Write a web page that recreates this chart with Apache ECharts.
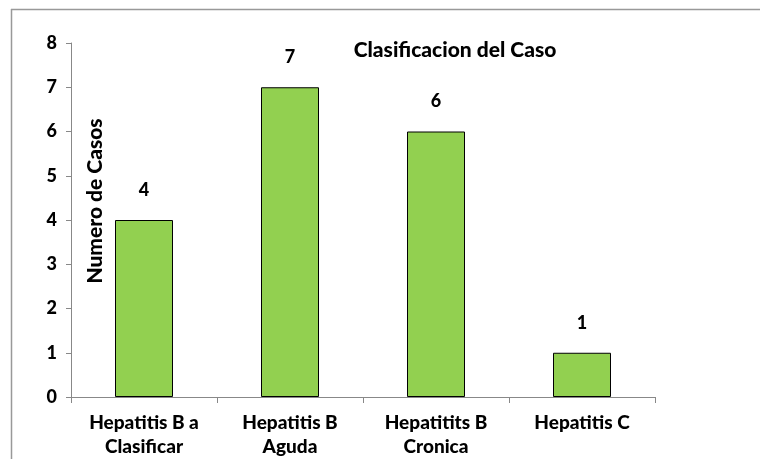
<!DOCTYPE html>
<html>
<head>
<meta charset="utf-8">
<script src="https://cdn.jsdelivr.net/npm/echarts@6/dist/echarts.min.js"></script>
<style>html,body{margin:0;padding:0;background:#fff}#c{width:760px;height:459px}</style>
</head>
<body>
<div id="c"></div>
<script>
var categories = ['Hepatitis B a\nClasificar', 'Hepatitis B\nAguda', 'Hepatitits B\nCronica', 'Hepatitis C'];
var casos = [4, 7, 6, 1];
var yTicks = [0, 1, 2, 3, 4, 5, 6, 7, 8];
var titleText = 'Clasificacion del Caso';
var yName = 'Numero de Casos';

var FONT = 'Lato, "Open Sans", sans-serif';
var W = 900;
var chart = echarts.init(document.getElementById('c'), null, {renderer: 'canvas'});
chart.setOption({
  animation: false,
  backgroundColor: '#fff',
  title: {
    text: titleText,
    left: 450, top: 35, textAlign: 'center',
    textStyle: {fontFamily: FONT, fontWeight: W, fontSize: 21, color: '#000'}
  },
  grid: {left: 71, right: 105, top: 43, bottom: 61},
  xAxis: {
    type: 'category',
    data: categories,
    axisLine: {lineStyle: {color: '#888', width: 1}},
    axisTick: {show: true, length: 6, alignWithLabel: false, lineStyle: {color: '#888'}},
    axisLabel: {fontFamily: FONT, fontWeight: W, fontSize: 19, color: '#000', lineHeight: 24, margin: 14, interval: 0}
  },
  yAxis: {
    type: 'value',
    min: yTicks[0], max: yTicks[yTicks.length - 1], interval: 1,
    splitLine: {show: false},
    axisLine: {show: true, lineStyle: {color: '#888', width: 1}},
    axisTick: {show: true, length: 5, lineStyle: {color: '#888'}},
    axisLabel: {fontFamily: FONT, fontWeight: W, fontSize: 18, color: '#000', margin: 14}
  },
  series: [{
    type: 'bar',
    data: casos,
    barWidth: 58,
    itemStyle: {color: '#92D050', borderColor: '#000', borderWidth: 1},
    label: {show: true, position: 'top', distance: 21, fontFamily: FONT, fontWeight: W, fontSize: 18, color: '#000'}
  }],
  graphic: [
    {type: 'line', shape: {x1: 11, y1: 9.5, x2: 760, y2: 9.5}, style: {stroke: '#999', lineWidth: 1.5}},
    {type: 'line', shape: {x1: 11.5, y1: 9, x2: 11.5, y2: 459}, style: {stroke: '#999', lineWidth: 1.5}},
    {type: 'text', x: 95, y: 201, rotation: Math.PI / 2,
     style: {text: yName, align: 'center', verticalAlign: 'middle', font: W + ' 21px ' + FONT, fill: '#000'}}
  ]
});
</script>
</body>
</html>
